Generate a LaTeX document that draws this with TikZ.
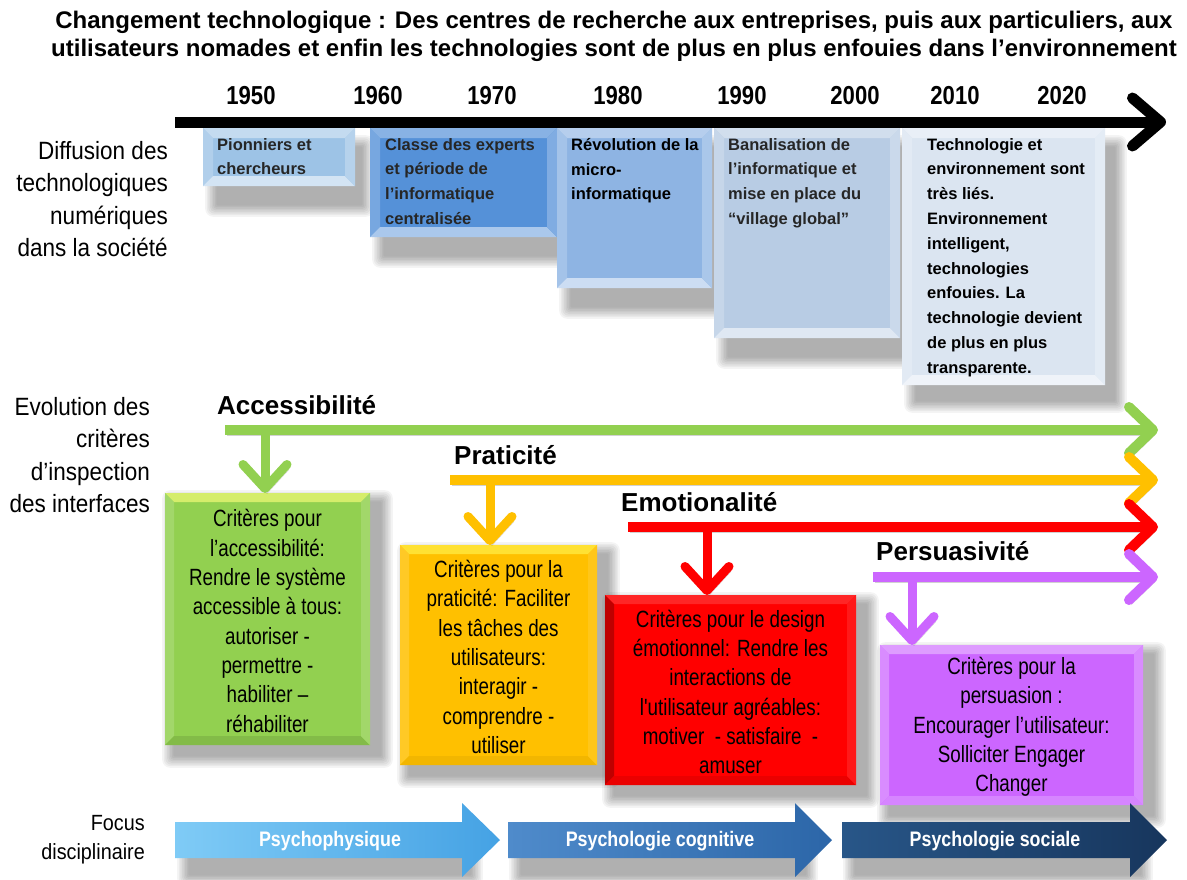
\documentclass[tikz,border=0pt]{standalone}
\usepackage{fontspec}
\setmainfont{Liberation Sans}
\newfontfamily\condfont[FakeStretch=0.85]{Liberation Sans}
\newfontfamily\sidefont[FakeStretch=0.90]{Liberation Sans}
\newfontfamily\narfont[FakeStretch=0.80]{Liberation Sans}
\usetikzlibrary{arrows.meta,calc}
\definecolor{cgreen}{HTML}{92D050}
\definecolor{corange}{HTML}{FFC000}
\definecolor{cred}{HTML}{FF0000}
\definecolor{cpurple}{HTML}{CC66FF}
\definecolor{tb1}{HTML}{9DC3E6}
\definecolor{tb2}{HTML}{5591D8}
\definecolor{tb3}{HTML}{8EB4E3}
\definecolor{tb4}{HTML}{B8CCE4}
\definecolor{tb5}{HTML}{DBE5F1}
\definecolor{ar1a}{HTML}{7FCBF6}
\definecolor{ar1b}{HTML}{45A2E4}
\definecolor{ar2a}{HTML}{4F8BCB}
\definecolor{ar2b}{HTML}{2C66A8}
\definecolor{ar3a}{HTML}{285688}
\definecolor{ar3b}{HTML}{17365D}
\definecolor{boxtext}{HTML}{262626}

\newcommand\softshadow[4]{%
  \foreach \k in {1,...,8}{%
    \fill[black,opacity=0.045,rounded corners=\k pt] ({#1-1.6*\k},{#2-1.6*\k}) rectangle ({#3+1.6*\k},{#4+1.6*\k});
  }}
\newcommand\mkbox[6]{% name x1 y1 x2 y2 colour
  \node[boxshape, fill=#6, minimum width={(#4)-(#2)}, minimum height={(#5)-(#3)}] (#1) at (#2,#3) {};}
\newcommand\bevel[6]{% node width top left bottom right
  \fill[#3] (#1.north west) -- (#1.north east) -- ($(#1.north east)+(-#2,#2)$) -- ($(#1.north west)+(#2,#2)$) -- cycle;
  \fill[#4] (#1.north west) -- ($(#1.north west)+(#2,#2)$) -- ($(#1.south west)+(#2,-#2)$) -- (#1.south west) -- cycle;
  \fill[#5] (#1.south west) -- ($(#1.south west)+(#2,-#2)$) -- ($(#1.south east)+(-#2,-#2)$) -- (#1.south east) -- cycle;
  \fill[#6] (#1.north east) -- ($(#1.north east)+(-#2,#2)$) -- ($(#1.south east)+(-#2,-#2)$) -- (#1.south east) -- cycle;}

\begin{document}
\begin{tikzpicture}[x=1pt,y=-1pt,
  title/.style={font=\bfseries\fontsize{24}{28}\selectfont, align=center, inner sep=0},
  year/.style={font=\condfont\bfseries\fontsize{26}{28}\selectfont, inner sep=0},
  sidelabel/.style={font=\sidefont\fontsize{25}{32.5}\selectfont, align=right, inner sep=0, anchor=east},
  toptext/.style={font=\bfseries\fontsize{16.5}{24.8}\selectfont, align=left, inner sep=0, anchor=north west, text=boxtext},
  crittext/.style={font=\narfont\fontsize{23.5}{29.3}\selectfont, align=center, inner sep=0},
  critlabel/.style={font=\bfseries\fontsize{26}{30}\selectfont, inner sep=0, anchor=west},
  lineshadow/.style={preaction={draw=black, opacity=0.18, transform canvas={xshift=2pt, yshift=-5pt}}},
  flow/.style={lineshadow, line width=10pt, -{Straight Barb[length=24pt,width=46pt,round]}},
  drop/.style={lineshadow, line width=9pt, -{Straight Barb[length=24pt,width=44pt,round]}},
  boxshape/.style={rectangle, inner sep=0, outer sep=0, anchor=north west},
  focustext/.style={font=\condfont\bfseries\fontsize{21}{24}\selectfont, text=white, inner sep=0},
]
\useasboundingbox (0,0) rectangle (1187,879);
\fill[white] (0,0) rectangle (1187,879);

% title
\node[title] (title) at (614,36) {Changement technologique : Des centres de recherche aux entreprises, puis aux particuliers, aux\\utilisateurs nomades et enfin les technologies sont de plus en plus enfouies dans l’environnement};

% years
\node[year] (y1950) at (251,96) {1950};
\node[year] (y1960) at (378,96) {1960};
\node[year] (y1970) at (492,96) {1970};
\node[year] (y1980) at (618,96) {1980};
\node[year] (y1990) at (742,96) {1990};
\node[year] (y2000) at (855,96) {2000};
\node[year] (y2010) at (955,96) {2010};
\node[year] (y2020) at (1062,96) {2020};

% side labels
\node[sidelabel] (ldiff) at (168,199) {Diffusion des\\technologiques\\numériques\\dans la société};
\node[sidelabel] (levol) at (150,455) {Evolution des\\critères\\d’inspection\\des interfaces};
\node[sidelabel, font=\sidefont\fontsize{22}{29}\selectfont] (lfocus) at (145,840) {Focus\\disciplinaire};

% top boxes: shadows
\softshadow{218}{148}{361}{204}
\softshadow{385}{148}{563}{255}
\softshadow{572}{148}{718}{306}
\softshadow{729}{148}{906}{356}
\softshadow{917}{148}{1114}{400}

\mkbox{b1}{203}{128}{355}{186}{tb1}
\bevel{b1}{10}{tb1!60!white}{tb1!80!white}{tb1!45!white}{tb1!75!white}
\mkbox{b2}{370}{128}{557}{237}{tb2}
\bevel{b2}{10}{tb2!70!white}{tb2!80!white}{tb2!50!white}{tb2!75!white}
\mkbox{b3}{557}{128}{712}{288}{tb3}
\bevel{b3}{10}{tb3!65!white}{tb3!80!white}{tb3!45!white}{tb3!75!white}
\mkbox{b4}{714}{128}{900}{338}{tb4}
\bevel{b4}{10}{tb4!65!white}{tb4!80!white}{tb4!45!white}{tb4!75!white}
\mkbox{b5}{902}{128}{1105}{385}{tb5}
\bevel{b5}{10}{tb5!60!white}{tb5!80!white}{tb5!45!white}{tb5!75!white}

\node[toptext] (t1) at (217,138) {Pionniers et\\chercheurs};
\node[toptext] (t2) at (385,138) {Classe des experts\\et période de\\l’informatique\\centralisée};
\node[toptext, text=black] (t3) at (571,138) {Révolution de la\\micro-\\informatique};
\node[toptext] (t4) at (728,138) {Banalisation de\\l’informatique et\\mise en place du\\“village global”};
\node[toptext, text=black] (t5) at (927,138) {Technologie et\\environnement sont\\très liés.\\Environnement\\intelligent,\\technologies\\enfouies. La\\technologie devient\\de plus en plus\\transparente.};

% main time arrow
\coordinate (ts) at (175,122);
\coordinate (te) at (1166,122);
\draw[line width=11pt, -{Straight Barb[length=28pt,width=48pt,round]}] (ts) -- (te);

% criteria boxes
\softshadow{175}{503}{380}{755}
\softshadow{410}{555}{607}{775}
\softshadow{615}{605}{866}{795}
\softshadow{890}{655}{1153}{815}

\mkbox{gbox}{165}{493}{370}{745}{cgreen}
\bevel{gbox}{9}{cgreen!55!yellow!70!white}{cgreen!85!white}{cgreen!90!black}{cgreen!85!white}
\mkbox{obox}{400}{545}{597}{765}{corange}
\bevel{obox}{9}{corange!60!yellow!80!white}{corange!85!white}{corange!95!black}{corange!90!white}
\mkbox{rbox}{605}{595}{856}{785}{cred}
\bevel{rbox}{9}{cred!85!white}{cred!75!black}{cred!92!black}{cred!90!white}
\mkbox{pbox}{880}{645}{1143}{805}{cpurple}
\bevel{pbox}{9}{cpurple!65!white}{cpurple!75!white}{cpurple!80!white}{cpurple!75!white}

\node[crittext] (gtext) at ($(gbox.center)+(0,2)$) {Critères pour\\l’accessibilité:\\Rendre le système\\accessible à tous:\\autoriser -\\permettre -\\habiliter –\\réhabiliter};
\node[crittext] (otext) at ($(obox.center)+(0,2)$) {Critères pour la\\praticité: Faciliter\\les tâches des\\utilisateurs:\\interagir -\\comprendre -\\utiliser};
\node[crittext] (rtext) at ($(rbox.center)+(0,2)$) {Critères pour le design\\émotionnel: Rendre les\\interactions de\\l'utilisateur agréables:\\motiver\ \ - satisfaire\ \ -\\amuser};
\node[crittext] (ptext) at ($(pbox.center)+(0,2)$) {Critères pour la\\persuasion :\\Encourager l’utilisateur:\\Solliciter Engager\\Changer};

% criteria flows
\coordinate (gs) at (225,430); \coordinate (ge) at (1158,430); \coordinate (gd) at (265,430);
\coordinate (os) at (450,480); \coordinate (oe) at (1158,480); \coordinate (od) at (490,480);
\coordinate (rs) at (628,527); \coordinate (re) at (1158,527); \coordinate (rd) at (707,527);
\coordinate (ps) at (873,577); \coordinate (pe) at (1158,577); \coordinate (pd) at (912,577);

\draw[flow, cgreen] (gs) -- (ge);
\draw[drop, cgreen] (gd) -- (gd |- gbox.north);
\draw[flow, corange] (os) -- (oe);
\draw[drop, corange] (od) -- (od |- obox.north);
\draw[flow, cred] (rs) -- (re);
\draw[drop, cred] (rd) -- (rd |- rbox.north);
\draw[flow, cpurple] (ps) -- (pe);
\draw[drop, cpurple] (pd) -- (pd |- pbox.north);

\node[critlabel] (lacc) at (217,405) {Accessibilité};
\node[critlabel] (lpra) at (454,455) {Praticité};
\node[critlabel] (lemo) at (621,502) {Emotionalité};
\node[critlabel] (lper) at (876,551) {Persuasivité};

% focus arrows
\softshadow{190}{848}{470}{874}
\softshadow{522}{848}{805}{874}
\softshadow{856}{848}{1140}{874}
\shade[left color=ar1a, right color=ar1b] (175,822) -- (462,822) -- (462,803) -- (500,840) -- (462,877) -- (462,858) -- (175,858) -- cycle;
\shade[left color=ar2a, right color=ar2b] (508,822) -- (795,822) -- (795,803) -- (832,840) -- (795,877) -- (795,858) -- (508,858) -- cycle;
\shade[left color=ar3a, right color=ar3b] (842,822) -- (1130,822) -- (1130,803) -- (1167,840) -- (1130,877) -- (1130,858) -- (842,858) -- cycle;
\node[focustext] (f1) at (330,841) {Psychophysique};
\node[focustext] (f2) at (660,841) {Psychologie cognitive};
\node[focustext] (f3) at (995,841) {Psychologie sociale};
\end{tikzpicture}
\end{document}
